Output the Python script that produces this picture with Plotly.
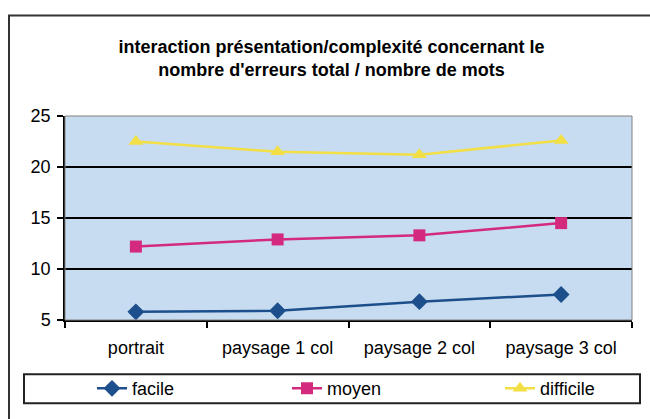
import plotly.graph_objects as go

categories = ["portrait", "paysage 1 col", "paysage 2 col", "paysage 3 col"]
facile = [5.8, 5.9, 6.8, 7.5]
moyen = [12.2, 12.9, 13.3, 14.5]
difficile = [22.5, 21.5, 21.2, 22.6]

series = [
    ("facile", facile, "#1d4f8c", "diamond", 13, "legend", 92),
    ("moyen", moyen, "#d42a7e", "square", 12, "legend2", 287),
    ("difficile", difficile, "#f2df45", "triangle-up", 13, "legend3", 500),
]

L, R, T, B = 65, 18, 116, 92
W, H = 650, 419
pw, ph = W - L - R, H - T - B

def px_x(p):
    return (p - L) / pw

def px_y(p):
    return (H - B - p) / ph

font = dict(family="Liberation Sans, Arial, sans-serif", color="black")

fig = go.Figure()
legends = {}
for name, vals, color, sym, size, leg, lx in series:
    fig.add_trace(go.Scatter(
        x=categories, y=vals, name=name, mode="lines+markers",
        line=dict(color=color, width=2.5),
        marker=dict(symbol=sym, size=size, color=color),
        legend=leg, showlegend=True,
    ))
    legends[leg] = dict(orientation="h", yanchor="middle", y=px_y(398),
                        xanchor="left", x=px_x(lx), bgcolor="rgba(0,0,0,0)",
                        font=dict(size=18, **font))

fig.update_layout(
    width=W, height=H,
    margin=dict(l=L, r=R, t=T, b=B),
    paper_bgcolor="white",
    plot_bgcolor="#c7dcf0",
    showlegend=True,
    font=dict(size=18, **font),
    title=dict(
        text="<b>interaction présentation/complexité concernant le<br>nombre d'erreurs total / nombre de mots</b>",
        x=0.51, xanchor="center", y=1 - 53 / H, yanchor="middle",
        font=dict(size=18, **font),
    ),
    xaxis=dict(
        type="category", tickson="boundaries", ticks="outside", ticklen=6,
        tickwidth=2, tickcolor="black", showline=True, linecolor="black",
        linewidth=2, showgrid=False, tickfont=dict(size=18, **font),
        range=[-0.5, 3.5], ticklabelstandoff=10,
    ),
    yaxis=dict(
        range=[5, 25], dtick=5, ticks="outside", ticklen=6, tickwidth=1.5,
        tickcolor="black", showline=True, linecolor="black", linewidth=1.5,
        showgrid=True, gridcolor="black", gridwidth=2, zeroline=False,
        tickfont=dict(size=18, **font), ticklabelstandoff=3,
    ),
    shapes=[
        dict(type="rect", xref="paper", yref="paper",
             x0=0, x1=1, y0=0, y1=1, line=dict(color="#808080", width=1)),
        dict(type="rect", xref="paper", yref="paper",
             x0=px_x(9), x1=px_x(662), y0=px_y(432), y1=px_y(12),
             line=dict(color="#333333", width=2)),
        dict(type="rect", xref="paper", yref="paper",
             x0=px_x(24), x1=px_x(640), y0=px_y(413), y1=px_y(383),
             line=dict(color="#222222", width=2)),
    ],
)
fig.update_layout(**legends)

fig.write_html("out.html", config={"displayModeBar": False},
               post_script="document.body.style.margin='0';")
